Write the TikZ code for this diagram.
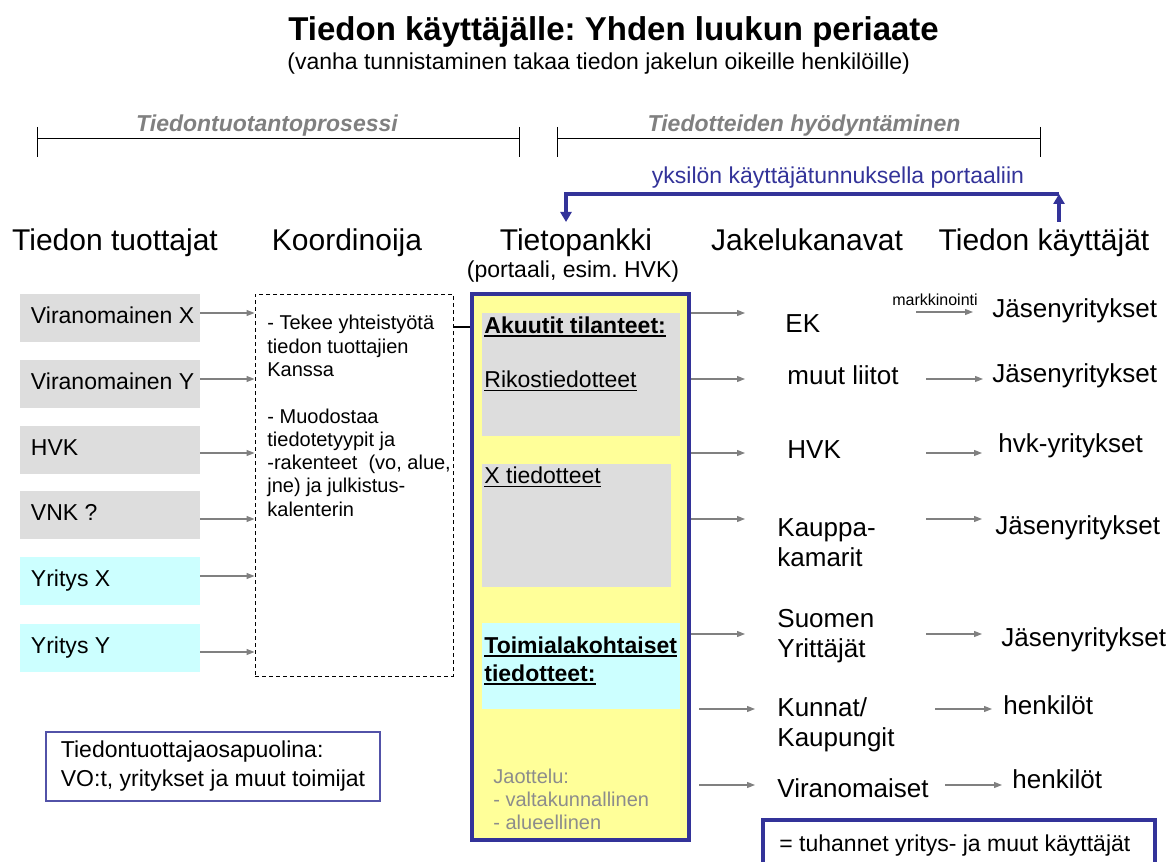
\documentclass[tikz,border=0pt]{standalone}
\usepackage{fontspec}
\setmainfont{Liberation Sans}
\usetikzlibrary{arrows.meta,positioning,calc}
\frenchspacing

\definecolor{portblue}{RGB}{51,51,153}
\definecolor{portyellow}{RGB}{255,255,153}
\definecolor{boxgray}{RGB}{221,221,221}
\definecolor{boxcyan}{RGB}{204,255,255}
\definecolor{linegray}{RGB}{128,128,128}
\definecolor{textgray}{RGB}{140,140,140}

\newcommand{\alleviiva}[2]{\setbox0=\hbox{#2}\rlap{\rule[-2pt]{\wd0}{#1}}\box0}

\tikzset{
  otsikko/.style={anchor=base, inner sep=0pt, font=\fontsize{15pt}{18pt}\selectfont},
  teksti/.style={anchor=base west, inner sep=0pt, align=left, font=\fontsize{11.5pt}{14pt}\selectfont},
  kanava/.style={anchor=base west, inner sep=0pt, align=left, font=\fontsize{13pt}{15pt}\selectfont},
  lahde/.style={fill=boxgray, minimum width=90pt, minimum height=24pt, inner xsep=5.5pt,
    text height=8.6pt, text depth=2.9pt, font=\fontsize{11.5pt}{14pt}\selectfont,
    execute at begin node={\hbox to 79pt\bgroup}, execute at end node={\hss\egroup}},
  nuoli/.style={draw=linegray, line width=.6pt, -{Triangle[length=4pt,width=3pt]}},
  sininuoli/.style={draw=portblue, line width=2pt, -{Triangle[length=5pt,width=5.5pt]}},
}

\begin{document}
\begin{tikzpicture}[x=0.5pt,y=-0.5pt]

      \useasboundingbox (0,0) rectangle (1171,861);

      \node[anchor=base west, inner sep=0pt, font=\fontsize{16.5pt}{20pt}\selectfont\bfseries] (paaotsikko) at (288,41) {Tiedon käyttäjälle: Yhden luukun periaate};
      \node[teksti] (alaotsikko) at (287,70) {(vanha tunnistaminen takaa tiedon jakelun oikeille henkilöille)};

      % vaiheet
      \draw (37,127) -- (37,157) (37,138) -- (519,138) (519,127) -- (519,157);
      \draw (557,127) -- (557,157) (557,138) -- (1040,138) (1040,127) -- (1040,157);
      \node[anchor=base, inner sep=0pt, text=linegray, font=\fontsize{11.5pt}{14pt}\selectfont\bfseries\itshape] (tuotanto) at (267,132) {Tiedontuotantoprosessi};
      \node[anchor=base, inner sep=0pt, text=linegray, font=\fontsize{11.5pt}{14pt}\selectfont\bfseries\itshape] (hyodynto) at (804,132) {Tiedotteiden hyödyntäminen};

      \node[anchor=base, inner sep=0pt, text=portblue, font=\fontsize{11.5pt}{14pt}\selectfont] (tunnus) at (838,184) {yksilön käyttäjätunnuksella portaaliin};

      \node[otsikko] (tuottajat) at (115,250) {Tiedon tuottajat};
      \node[otsikko] (koordinoija) at (347,250) {Koordinoija};
      \node[otsikko] (tietopankki) at (576,250) {Tietopankki};
      \node[otsikko] (jakelu) at (807,250) {Jakelukanavat};
      \node[otsikko] (kayttajat) at (1044,250) {Tiedon käyttäjät};
      \node[anchor=base, inner sep=0pt, font=\fontsize{11.5pt}{14pt}\selectfont] (portaali) at (573,278) {(portaali, esim. HVK)};

      \coordinate (pvas) at (566,222);
      \coordinate (kvas) at (566,194);
      \coordinate (koik) at (1059,194);
      \coordinate (poik) at (1059,222);
      \draw[sininuoli] (poik) -- (koik);
      \draw[sininuoli] (koik) -- (kvas) -- (pvas);

      % tiedon tuottajat
      \node[lahde] (vx) at (110,318) {Viranomainen X};
      \node[lahde] (vy) at (110,384) {Viranomainen Y};
      \node[lahde] (hvk) at (110,450) {HVK};
      \node[lahde] (vnk) at (110,515) {VNK ?};
      \node[lahde, fill=boxcyan] (yx) at (110,581) {Yritys X};
      \node[lahde, fill=boxcyan] (yy) at (110,647.5) {Yritys Y};

      \node[draw, dashed, dash pattern=on 2pt off 1.5pt, line width=.5pt, minimum width=99pt, minimum height=191pt, inner sep=0pt] (koord) at (354,485) {};
      \node[anchor=north west, inner sep=0pt, align=left, font=\fontsize{10pt}{11.65pt}\selectfont] (koordteksti) at (267,315)
        {- Tekee yhteistyötä\\tiedon tuottajien\\Kanssa\\[11.65pt]- Muodostaa\\tiedotetyypit ja\\-rakenteet\ \ (vo, alue,\\jne) ja julkistus-\\kalenterin};

      \draw[nuoli] ([yshift=2.5pt]vx.east) -- ([yshift=2.5pt]vx.east -| koord.west);
      \draw[nuoli] ([yshift=2.5pt]vy.east) -- ([yshift=2.5pt]vy.east -| koord.west);
      \draw[nuoli] ([yshift=-1.5pt]hvk.east) -- ([yshift=-1.5pt]hvk.east -| koord.west);
      \draw[nuoli] ([yshift=-2pt]vnk.east) -- ([yshift=-2pt]vnk.east -| koord.west);
      \draw[nuoli] ([yshift=2.5pt]yx.east) -- ([yshift=2.5pt]yx.east -| koord.west);
      \draw[nuoli] ([yshift=-2.25pt]yy.east) -- ([yshift=-2.25pt]yy.east -| koord.west);

      % tietopankki
      \node[draw=portblue, line width=2pt, fill=portyellow, minimum width=108.5pt, minimum height=273pt, inner sep=0pt] (pankki) at (580.5,567) {};
      \node[fill=boxgray, minimum width=99pt, minimum height=61.5pt, inner sep=0pt] (akuutit) at (581,374.5) {};
      \node[fill=boxgray, minimum width=94.5pt, minimum height=61.5pt, inner sep=0pt] (xtied) at (576.5,525.5) {};
      \node[fill=boxcyan, minimum width=99pt, minimum height=43pt, inner sep=0pt] (toimiala) at (581,666) {};

      \node[teksti] (akuutitteksti) at (484,333) {\alleviiva{1.2pt}{\textbf{Akuutit tilanteet:}}};
      \node[teksti] (rikos) at (484,387) {\alleviiva{.6pt}{Rikostiedotteet}};
      \node[teksti] (xteksti) at (484,483) {\alleviiva{.6pt}{X tiedotteet}};
      \node[teksti] (toimialateksti) at (484,681) {\alleviiva{1.2pt}{\textbf{Toimialakohtaiset}}\\\alleviiva{1.2pt}{\textbf{tiedotteet:}}};
      \node[anchor=base west, inner sep=0pt, align=left, text=textgray, font=\fontsize{10pt}{11.5pt}\selectfont] (jaottelu) at (493,829) {Jaottelu:\\- valtakunnallinen\\- alueellinen};

      \coordinate (kout) at (453,327);
      \draw[line width=.6pt] (kout) -- (kout -| pankki.west);

      % jakelukanavat
      \node[kanava] (ek) at (785,332) {EK};
      \node[kanava] (liitot) at (787,384) {muut liitot};
      \node[kanava] (hvkkanava) at (787,458) {HVK};
      \node[kanava] (kamarit) at (777,566) {Kauppa-\\kamarit};
      \node[kanava] (yrittajat) at (777,657) {Suomen\\Yrittäjät};
      \node[kanava] (kunnat) at (777,746) {Kunnat/\\Kaupungit};
      \node[kanava] (viranomaiset) at (777,797) {Viranomaiset};

      \coordinate (k1) at (745,313);
      \coordinate (k2) at (745,379);
      \coordinate (k3) at (745,453);
      \coordinate (k4) at (745,519);
      \coordinate (k5) at (745,634);
      \coordinate (k6a) at (699,709);
      \coordinate (k6) at (755,709);
      \coordinate (k7a) at (699,785);
      \coordinate (k7) at (755,785);
      \draw[nuoli] (k1 -| pankki.east) -- (k1);
      \draw[nuoli] (k2 -| pankki.east) -- (k2);
      \draw[nuoli] (k3 -| pankki.east) -- (k3);
      \draw[nuoli] (k4 -| pankki.east) -- (k4);
      \draw[nuoli] (k5 -| pankki.east) -- (k5);
      \draw[nuoli] (k6a) -- (k6);
      \draw[nuoli] (k7a) -- (k7);

      % tiedon kayttajat
      \node[kanava] (jasen1) at (992,317) {Jäsenyritykset};
      \node[kanava] (jasen2) at (992,382) {Jäsenyritykset};
      \node[kanava] (hvkyritykset) at (998,452) {hvk-yritykset};
      \node[kanava] (jasen3) at (995,534) {Jäsenyritykset};
      \node[kanava] (jasen4) at (1001,646) {Jäsenyritykset};
      \node[kanava] (henkilot1) at (1003,714) {henkilöt};
      \node[kanava] (henkilot2) at (1012,788) {henkilöt};
      \node[anchor=base, inner sep=0pt, font=\fontsize{8pt}{9pt}\selectfont] (markkinointi) at (935,305) {markkinointi};

      \coordinate (m1a) at (916,312);
      \coordinate (m1) at (973,312);
      \coordinate (m2a) at (926,379);
      \coordinate (m2) at (983,379);
      \coordinate (m3a) at (926,453);
      \coordinate (m3) at (982,453);
      \coordinate (m4a) at (926,519);
      \coordinate (m4) at (982,519);
      \coordinate (m5a) at (926,634);
      \coordinate (m5) at (982,634);
      \coordinate (m6a) at (935,709);
      \coordinate (m6) at (992,709);
      \coordinate (m7a) at (945,785);
      \coordinate (m7) at (1002,785);
      \draw[nuoli] (m1a) -- (m1);
      \draw[nuoli] (m2a) -- (m2);
      \draw[nuoli] (m3a) -- (m3);
      \draw[nuoli] (m4a) -- (m4);
      \draw[nuoli] (m5a) -- (m5);
      \draw[nuoli] (m6a) -- (m6);
      \draw[nuoli] (m7a) -- (m7);

      % selitteet
      \node[draw=portblue!85, line width=.75pt, minimum width=167pt, minimum height=34.5pt, align=left, font=\fontsize{11.5pt}{14.5pt}\selectfont] (osapuolet) at (213,766.5) {Tiedontuottajaosapuolina:\\VO:t, yritykset ja muut toimijat};
      \node[draw=portblue, line width=2pt, minimum width=196pt, minimum height=30pt, inner sep=0pt] (tuhannet) at (959,850) {};
      \node[teksti] (tuhannetteksti) at (779,851) {= tuhannet yritys- ja muut käyttäjät};

    \end{tikzpicture}
\end{document}
